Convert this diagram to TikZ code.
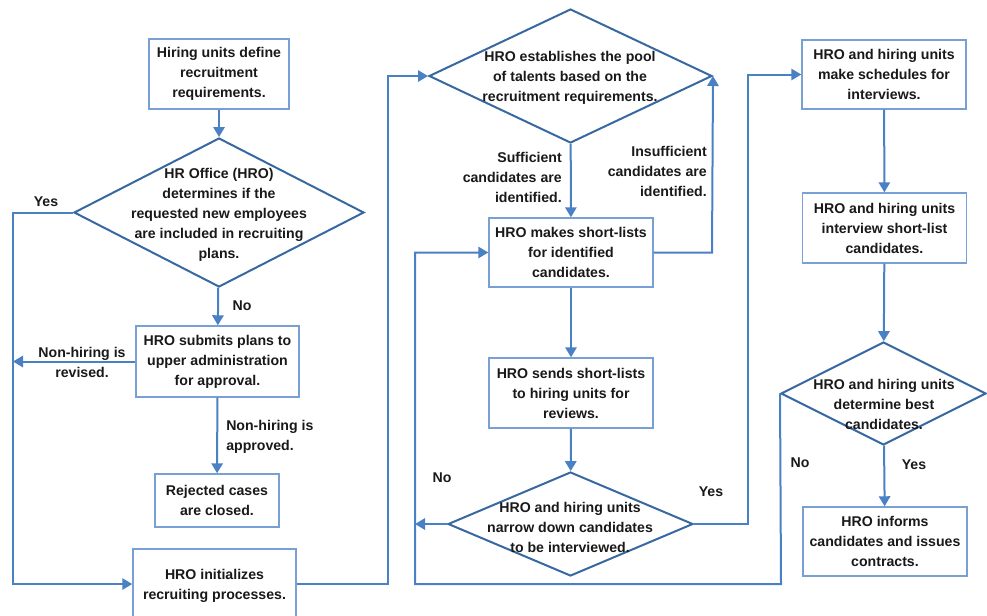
\documentclass[tikz,border=0pt]{standalone}
\usepackage{fontspec}
\setmainfont{Liberation Sans}
\usetikzlibrary{shapes.geometric,arrows.meta}

\definecolor{flowline}{RGB}{74,128,196}
\definecolor{boxline}{RGB}{120,160,212}
\definecolor{diamline}{RGB}{56,104,160}
\definecolor{ink}{RGB}{25,25,25}

\tikzset{
  txt/.style={font=\fontsize{10.6}{15}\selectfont\bfseries, text=ink, align=center, inner sep=0pt},
  stepbox/.style={draw=boxline, line width=1.1pt, fill=white, rectangle, inner sep=0pt},
  decision/.style={draw=diamline, line width=1.5pt, diamond, inner sep=0pt},
  flow/.style={draw=flowline, line width=1.5pt},
  arr/.style={flow, -{Triangle[length=7.5pt,width=8.5pt]}},
}

\begin{document}
\begin{tikzpicture}[x=0.75pt,y=-0.75pt]
\useasboundingbox (0,0) rectangle (987,615);
\clip (0,0) rectangle (987,615);

% ---------- left column ----------
\node[stepbox, minimum width=140*0.75pt, minimum height=70*0.75pt] (b1) at (219,74) {};
\node[txt] (b1t) at (b1.center) {Hiring units define\\recruitment\\requirements.};

\node[decision, minimum width=290*0.75pt, minimum height=149*0.75pt] (d1) at (219,212.5) {};
\node[txt] (d1t) at (219,215) {HR Office (HRO)\\determines if the\\requested new employees\\are included in recruiting\\plans.};

\node[stepbox, minimum width=163*0.75pt, minimum height=71*0.75pt] (b2) at (217.5,361.5) {};
\node[txt] (b2t) at (b2.center) {HRO submits plans to\\upper administration\\for approval.};

\node[stepbox, minimum width=124*0.75pt, minimum height=53*0.75pt] (b3) at (217,500.5) {};
\node[txt] (b3t) at (b3.center) {Rejected cases\\are closed.};

\node[stepbox, minimum width=163*0.75pt, minimum height=70*0.75pt] (b4) at (214.5,584) {};
\node[txt] (b4t) at (214.5,586) {HRO initializes\\recruiting processes.};

% ---------- middle column ----------
\node[decision, minimum width=283*0.75pt, minimum height=134*0.75pt] (d2) at (570.5,76) {};
\node[txt] (d2t) at (570,78) {HRO establishes the pool\\of talents based on the\\recruitment requirements.};

\node[stepbox, minimum width=164*0.75pt, minimum height=69*0.75pt] (b5) at (571,252.5) {};
\node[txt] (b5t) at (b5.center) {HRO makes short-lists\\for identified\\candidates.};

\node[stepbox, minimum width=164*0.75pt, minimum height=70*0.75pt] (b6) at (571,393) {};
\node[txt] (b6t) at (b6.center) {HRO sends short-lists\\to hiring units for\\reviews.};

\node[decision, minimum width=245*0.75pt, minimum height=104*0.75pt] (d3) at (570.5,524) {};
\node[txt] (d3t) at (570,527) {HRO and hiring units\\narrow down candidates\\to be interviewed.};

% ---------- right column ----------
\node[stepbox, minimum width=164*0.75pt, minimum height=69*0.75pt] (b7) at (884,74.5) {};
\node[txt] (b7t) at (b7.center) {HRO and hiring units\\make schedules for\\interviews.};

\node[stepbox, minimum width=164*0.75pt, minimum height=70*0.75pt] (b8) at (884.5,228) {};
\node[txt] (b8t) at (b8.center) {HRO and hiring units\\interview short-list\\candidates.};

\node[decision, minimum width=205*0.75pt, minimum height=103*0.75pt] (d4) at (883.5,393.5) {};
\node[txt] (d4t) at (884,404) {HRO and hiring units\\determine best\\candidates.};

\node[stepbox, minimum width=164*0.75pt, minimum height=69*0.75pt] (b9) at (885,541.5) {};
\node[txt] (b9t) at (b9.center) {HRO informs\\candidates and issues\\contracts.};

% ---------- free ends of connectors ----------
\coordinate (yesL) at (13,212.5);
\coordinate (yesLB) at (13,584);
\coordinate (revEnd) at (13,361.5);
\coordinate (upA) at (388,584);
\coordinate (upB) at (388,76);
\coordinate (insA) at (712,252.5);
\coordinate (noEnd) at (415,524);
\coordinate (yesA) at (748,524);
\coordinate (yesB) at (748,74.5);
\coordinate (loopA) at (781,584);
\coordinate (loopB) at (415,584);
\coordinate (loopC) at (415,252.5);

% ---------- connectors ----------
\draw[arr] (b1) -- (d1);
\draw[arr] (d1.west) -- (yesL) -- (yesLB) -- (b4.west);
\draw[arr] (d1) -- (b2);
\draw[arr] (b2.west) -- (revEnd);
\draw[arr] (b2) -- (b3);
\draw[arr] (b4.east) -- (upA) -- (upB) -- (d2.west);
\draw[arr] (d2) -- (b5);
\draw[arr] (b5.east) -- (insA) -- (d2.east);
\draw[arr] (b5) -- (b6);
\draw[arr] (b6) -- (d3);
\draw[arr] (d3.west) -- (noEnd);
\draw[arr] (d3.east) -- (yesA) -- (yesB) -- (b7.west);
\draw[arr] (b7) -- (b8);
\draw[arr] (b8) -- (d4);
\draw[arr] (d4.west) -- (loopA) -- (loopB) -- (loopC) -- (b5.west);
\draw[arr] (d4) -- (b9);

% ---------- connector labels ----------
\node[txt] (lyes1) at (46,202) {Yes};
\node[txt] (lno1) at (242,306) {No};
\node[txt] (lrev) at (82,362) {Non-hiring is\\revised.};
\node[txt, align=left, anchor=west] (lapp) at (226,437) {Non-hiring is\\approved.};
\node[txt, align=right, anchor=east] (lsuf) at (562,177) {Sufficient\\candidates are\\identified.};
\node[txt, align=right, anchor=east] (lins) at (707,171) {Insufficient\\candidates are\\identified.};
\node[txt] (lno2) at (442,478) {No};
\node[txt] (lyes2) at (711,492) {Yes};
\node[txt] (lno3) at (800,463) {No};
\node[txt] (lyes3) at (914,465) {Yes};
\end{tikzpicture}
\end{document}
